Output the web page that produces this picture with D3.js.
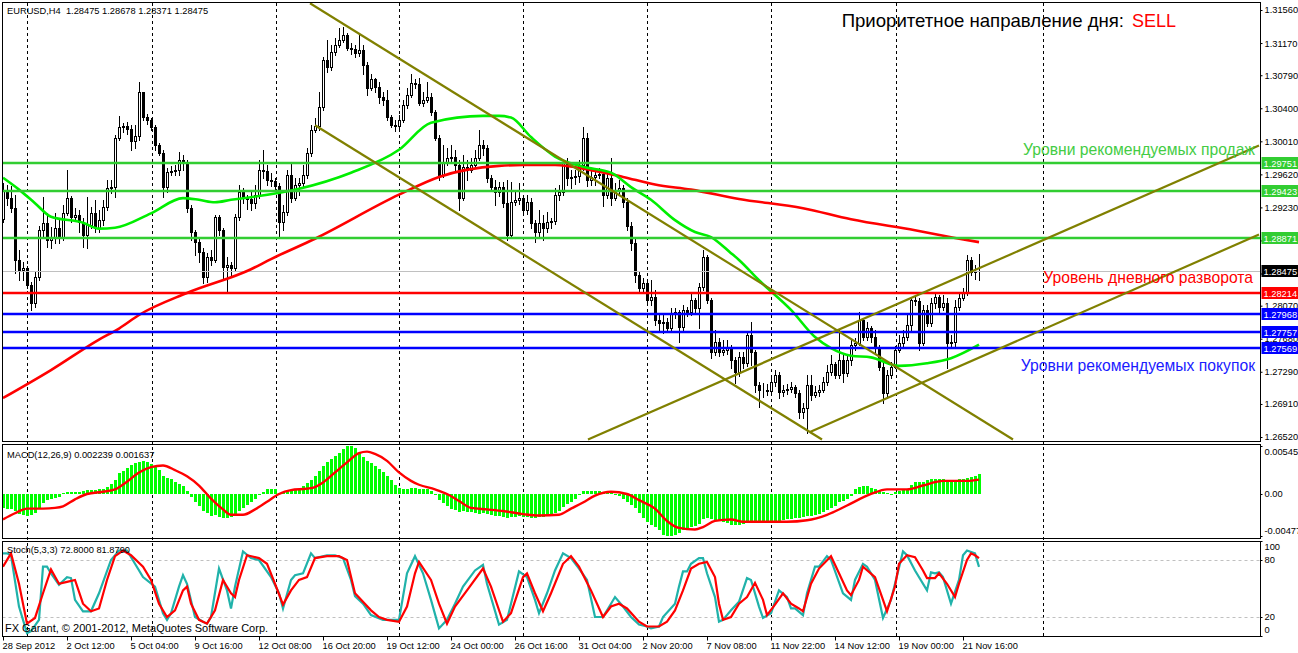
<!DOCTYPE html>
<html><head><meta charset="utf-8">
<script src="https://cdnjs.cloudflare.com/ajax/libs/d3/7.8.5/d3.min.js"></script>
<style>
html,body{margin:0;padding:0;background:#fff;overflow:hidden}
svg text{font-family:"Liberation Sans",Arial,sans-serif}
</style></head><body>
<svg id="chart" width="1298" height="653"></svg>
<script>
// ===== DATA =====
const symbolHeader = "EURUSD,H4  1.28475 1.28678 1.28371 1.28475";
const firstOpen = 1.2909;
const closes = [
1.2944,1.2934,1.2922,1.2861,1.2849,1.2852,1.2832,1.2810,1.2841,1.2896,
1.2905,1.2884,1.2888,1.2899,1.2888,1.2916,1.2934,1.2912,1.2914,1.2906,
1.2891,1.2902,1.2916,1.2899,1.2908,1.2924,1.2946,1.2947,1.3005,1.3018,
1.3019,1.3016,1.3001,1.3007,1.3059,1.3030,1.3026,1.3018,1.2997,1.2987,
1.2947,1.2965,1.2966,1.2967,1.2979,1.2975,1.2922,1.2894,1.2882,1.2870,
1.2841,1.2865,1.2861,1.2912,1.2896,1.2853,1.2855,1.2852,1.2912,1.2941,
1.2935,1.2933,1.2928,1.2938,1.2967,1.2966,1.2955,1.2954,1.2948,1.2906,
1.2918,1.2961,1.2934,1.2950,1.2952,1.2961,1.2987,1.3014,1.3019,1.3042,
1.3097,1.3089,1.3107,1.3115,1.3121,1.3127,1.3111,1.3110,1.3105,1.3109,
1.3091,1.3064,1.3074,1.3065,1.3053,1.3050,1.3030,1.3020,1.3019,1.3026,
1.3044,1.3056,1.3070,1.3069,1.3046,1.3050,1.3053,1.3036,1.3005,1.2961,
1.2975,1.2981,1.2983,1.2973,1.2934,1.2971,1.2967,1.2973,1.2981,1.2997,
1.2993,1.2958,1.2947,1.2941,1.2947,1.2928,1.2891,1.2929,1.2932,1.2934,
1.2920,1.2929,1.2905,1.2894,1.2905,1.2899,1.2906,1.2907,1.2938,1.2941,
1.2977,1.2958,1.2959,1.2960,1.2973,1.3005,1.2955,1.2959,1.2961,1.2962,
1.2938,1.2958,1.2934,1.2944,1.2946,1.2929,1.2901,1.2881,1.2843,1.2828,
1.2834,1.2814,1.2817,1.2790,1.2787,1.2788,1.2781,1.2798,1.2799,1.2782,
1.2802,1.2800,1.2814,1.2804,1.2829,1.2865,1.2814,1.2752,1.2764,1.2752,
1.2755,1.2757,1.2743,1.2729,1.2746,1.2739,1.2772,1.2752,1.2713,1.2707,
1.2708,1.2706,1.2717,1.2725,1.2705,1.2707,1.2709,1.2711,1.2704,1.2682,
1.2686,1.2713,1.2701,1.2705,1.2707,1.2717,1.2729,1.2738,1.2725,1.2743,
1.2727,1.2743,1.2761,1.2763,1.2790,1.2770,1.2781,1.2770,1.2757,1.2735,
1.2704,1.2725,1.2735,1.2755,1.2763,1.2770,1.2784,1.2814,1.2813,1.2763,
1.2802,1.2787,1.2810,1.2817,1.2806,1.2810,1.2763,1.2764,1.2806,1.2816,
1.2822,1.2861,1.2847,1.28475,1.28475];
const highs = [
1.2952,1.2950,1.2948,1.2938,1.2873,1.2859,1.2854,1.2835,1.2847,1.2901,
1.2935,1.2916,1.2900,1.2916,1.2911,1.2926,1.2967,1.2937,1.2922,1.2920,
1.2911,1.2935,1.2924,1.2932,1.2920,1.2932,1.2955,1.2955,1.3009,1.3031,
1.3023,1.3024,1.3020,1.3020,1.3071,1.3059,1.3033,1.3029,1.3020,1.2999,
1.2991,1.2970,1.2972,1.2973,1.2988,1.2985,1.2979,1.2926,1.2896,1.2887,
1.2875,1.2869,1.2873,1.2914,1.2914,1.2899,1.2864,1.2859,1.2915,1.2950,
1.2946,1.2938,1.2941,1.2950,1.2979,1.2991,1.2973,1.2964,1.2958,1.2952,
1.2926,1.2967,1.2977,1.2958,1.2958,1.2973,1.2993,1.3020,1.3029,1.3059,
1.3100,1.3121,1.3115,1.3123,1.3135,1.3136,1.3129,1.3117,1.3115,1.3127,
1.3115,1.3095,1.3080,1.3076,1.3071,1.3059,1.3062,1.3032,1.3026,1.3032,
1.3050,1.3064,1.3080,1.3074,1.3076,1.3059,1.3071,1.3058,1.3038,1.3009,
1.2997,1.2993,1.2997,1.2991,1.2979,1.2985,1.2979,1.2981,1.2991,1.3014,
1.3003,1.2997,1.2961,1.2955,1.2953,1.2953,1.2955,1.2953,1.2944,1.2952,
1.2938,1.2938,1.2934,1.2908,1.2920,1.2914,1.2918,1.2911,1.2946,1.2950,
1.2979,1.2981,1.2967,1.2967,1.2979,1.3018,1.3011,1.2967,1.2967,1.2970,
1.2967,1.2965,1.2981,1.2952,1.2955,1.2950,1.2934,1.2906,1.2887,1.2847,
1.2840,1.2835,1.2837,1.2826,1.2796,1.2796,1.2793,1.2804,1.2804,1.2802,
1.2808,1.2806,1.2822,1.2816,1.2834,1.2873,1.2867,1.2816,1.2778,1.2769,
1.2767,1.2767,1.2761,1.2746,1.2752,1.2752,1.2775,1.2788,1.2755,1.2717,
1.2716,1.2715,1.2725,1.2731,1.2729,1.2713,1.2715,1.2717,1.2713,1.2707,
1.2692,1.2725,1.2725,1.2712,1.2713,1.2723,1.2737,1.2749,1.2741,1.2778,
1.2749,1.2749,1.2767,1.2769,1.2800,1.2793,1.2788,1.2783,1.2778,1.2761,
1.2739,1.2731,1.2741,1.2759,1.2772,1.2778,1.2796,1.2816,1.2820,1.2816,
1.2808,1.2808,1.2816,1.2823,1.2820,1.2820,1.2816,1.2772,1.2814,1.2822,
1.2828,1.2867,1.2864,1.2855,1.28678];
const lows = [
1.2906,1.2926,1.2918,1.2846,1.2837,1.2837,1.2828,1.2802,1.2806,1.2837,
1.2887,1.2876,1.2875,1.2881,1.2881,1.2884,1.2914,1.2906,1.2908,1.2894,
1.2876,1.2875,1.2899,1.2894,1.2894,1.2902,1.2920,1.2940,1.2935,1.3003,
1.3012,1.3010,1.2991,1.2993,1.3003,1.3026,1.3022,1.3014,1.2991,1.2985,
1.2935,1.2941,1.2961,1.2961,1.2961,1.2967,1.2918,1.2884,1.2867,1.2859,
1.2834,1.2835,1.2855,1.2859,1.2891,1.2837,1.2823,1.2843,1.2849,1.2908,
1.2928,1.2921,1.2920,1.2922,1.2934,1.2958,1.2950,1.2948,1.2944,1.2888,
1.2896,1.2914,1.2929,1.2932,1.2938,1.2948,1.2958,1.2984,1.3012,1.3014,
1.3038,1.3083,1.3085,1.3103,1.3112,1.3118,1.3109,1.3104,1.3101,1.3102,
1.3080,1.3056,1.3062,1.3059,1.3046,1.3044,1.3026,1.3018,1.3013,1.3013,
1.3024,1.3040,1.3053,1.3064,1.3044,1.3043,1.3047,1.3032,1.3003,1.2955,
1.2959,1.2973,1.2977,1.2967,1.2920,1.2932,1.2955,1.2965,1.2970,1.2979,
1.2985,1.2953,1.2944,1.2926,1.2937,1.2924,1.2884,1.2889,1.2926,1.2927,
1.2916,1.2915,1.2899,1.2882,1.2887,1.2884,1.2894,1.2899,1.2903,1.2932,
1.2938,1.2950,1.2946,1.2951,1.2953,1.2967,1.2948,1.2950,1.2950,1.2958,
1.2925,1.2934,1.2926,1.2932,1.2939,1.2924,1.2896,1.2873,1.2835,1.2822,
1.2823,1.2811,1.2808,1.2784,1.2778,1.2775,1.2776,1.2778,1.2793,1.2764,
1.2778,1.2795,1.2796,1.2800,1.2781,1.2826,1.2810,1.2745,1.2749,1.2748,
1.2749,1.2750,1.2733,1.2716,1.2724,1.2733,1.2736,1.2737,1.2705,1.2688,
1.2699,1.2701,1.2704,1.2712,1.2698,1.2700,1.2703,1.2705,1.2699,1.2675,
1.2675,1.2657,1.2696,1.2699,1.2700,1.2705,1.2713,1.2725,1.2722,1.2722,
1.2717,1.2724,1.2737,1.2755,1.2761,1.2767,1.2767,1.2764,1.2752,1.2731,
1.2692,1.2698,1.2722,1.2733,1.2752,1.2758,1.2767,1.2778,1.2808,1.2755,
1.2761,1.2783,1.2783,1.2804,1.2800,1.2802,1.2733,1.2757,1.2757,1.2802,
1.2814,1.2820,1.2843,1.2838,1.28371];

// moving averages: [bar, price]
const maSlow = [[0,1.2698],[12,1.2731],[24,1.2767],[29,1.2780],[34,1.2796],[46,1.2822],[62,1.2850],[67,1.2862],[78,1.2886],[99,1.2938],[109,1.2959],[124,1.2972],[130,1.2973],[138,1.2973],[147,1.2967],[155,1.2959],[163,1.2950],[172,1.2944],[184,1.2933],[200,1.2922],[212,1.2909],[228,1.2896],[238,1.2887],[244,1.2882]];
const maFast = [[0,1.2958],[4,1.2944],[8,1.2928],[12,1.2912],[20,1.2905],[24,1.2898],[28,1.2899],[37,1.2916],[45,1.2934],[49,1.2932],[53,1.2929],[57,1.2932],[62,1.2935],[74,1.2945],[87,1.2964],[99,1.2991],[107,1.3023],[120,1.3031],[124,1.3031],[127,1.3029],[132,1.3006],[138,1.2983],[145,1.2971],[152,1.2964],[157,1.2947],[162,1.2932],[168,1.2908],[173,1.2894],[177,1.2888],[182,1.2869],[184,1.2861],[189,1.2837],[197,1.2802],[203,1.2770],[207,1.2757],[212,1.2748],[217,1.2746],[224,1.2736],[231,1.2739],[237,1.2745],[244,1.2761]];

// levels
const sellLevels = [1.29751,1.29423,1.28871];
const pivotLevels = [1.28214];
const buyLevels = [1.27968,1.27757,1.27569];
const lastPrice = 1.28475;

// trend lines: [bar, price] -> [bar, price]
const trendLines = [
  [[76.75,1.3164],[252.5,1.2649]],
  [[78,1.3020],[204.75,1.2649]],
  [[201.75,1.2658],[314,1.2891]],
  [[146.25,1.2649],[314,1.2996]]
];

// MACD
const macdHeader = "MACD(12,26,9) 0.002239 0.001637";
const macdHist = [
-0.00158,-0.00166,-0.00175,-0.00193,-0.00228,-0.00236,-0.00245,-0.00236,-0.00219,-0.00158,
-0.00105,-0.00070,-0.00053,-0.00044,-0.00035,0.00009,0.00026,0.00026,0.00026,0.00018,
0.00035,0.00044,0.00044,0.00044,0.00053,0.00061,0.00079,0.00114,0.00158,0.00236,
0.00263,0.00298,0.00324,0.00350,0.00368,0.00376,0.00359,0.00341,0.00315,0.00271,
0.00210,0.00184,0.00166,0.00140,0.00114,0.00088,0.00035,-0.00035,-0.00088,-0.00140,
-0.00193,-0.00219,-0.00245,-0.00236,-0.00263,-0.00271,-0.00271,-0.00263,-0.00228,-0.00193,
-0.00158,-0.00123,-0.00096,-0.00053,-0.00009,0.00026,0.00053,0.00061,0.00061,0.00009,
0.00018,0.00035,0.00035,0.00044,0.00061,0.00088,0.00123,0.00158,0.00201,0.00263,
0.00315,0.00359,0.00394,0.00429,0.00464,0.00510,0.00545,0.00540,0.00520,0.00470,
0.00420,0.00376,0.00350,0.00315,0.00280,0.00245,0.00201,0.00158,0.00105,0.00070,
0.00061,0.00061,0.00070,0.00070,0.00061,0.00061,0.00053,0.00035,0.00000,-0.00070,
-0.00105,-0.00140,-0.00166,-0.00184,-0.00201,-0.00193,-0.00201,-0.00210,-0.00219,-0.00228,
-0.00219,-0.00228,-0.00236,-0.00245,-0.00254,-0.00263,-0.00271,-0.00263,-0.00263,-0.00254,
-0.00263,-0.00263,-0.00271,-0.00271,-0.00263,-0.00263,-0.00254,-0.00236,-0.00219,-0.00193,
-0.00149,-0.00114,-0.00088,-0.00053,-0.00009,0.00035,0.00035,0.00035,0.00035,0.00035,
0.00026,0.00026,0.00009,-0.00009,-0.00026,-0.00053,-0.00088,-0.00123,-0.00158,-0.00219,
-0.00271,-0.00315,-0.00350,-0.00376,-0.00411,-0.00460,-0.00477,-0.00475,-0.00465,-0.00440,
-0.00411,-0.00394,-0.00376,-0.00359,-0.00341,-0.00280,-0.00271,-0.00289,-0.00298,-0.00306,
-0.00315,-0.00333,-0.00350,-0.00350,-0.00350,-0.00341,-0.00324,-0.00324,-0.00324,-0.00324,
-0.00324,-0.00324,-0.00324,-0.00315,-0.00306,-0.00298,-0.00289,-0.00280,-0.00271,-0.00271,
-0.00263,-0.00254,-0.00245,-0.00236,-0.00228,-0.00210,-0.00184,-0.00158,-0.00131,-0.00096,
-0.00079,-0.00053,-0.00018,0.00053,0.00079,0.00088,0.00088,0.00070,0.00061,0.00035,
0.00018,0.00009,0.00000,0.00026,0.00035,0.00044,0.00053,0.00105,0.00131,0.00131,
0.00140,0.00158,0.00166,0.00175,0.00175,0.00175,0.00131,0.00131,0.00158,0.00166,
0.00166,0.00184,0.00193,0.00201,0.002239];
const macdSignal = [[0,-0.00289],[3,-0.00219],[6,-0.00166],[10,-0.00166],[13,-0.00158],[15,-0.00140],[18,-0.00061],[21,0],[25,0.00026],[28,0.00053],[31,0.00140],[34,0.00245],[37,0.00306],[40,0.00324],[43,0.00271],[46,0.00201],[49,0.00096],[52,-0.00053],[55,-0.00175],[57,-0.00236],[60,-0.00236],[63,-0.00175],[66,-0.00088],[69,0],[72,0.00044],[76,0.00061],[78,0.00079],[80,0.00131],[83,0.00245],[86,0.00359],[89,0.00464],[91,0.00481],[93,0.00455],[96,0.00376],[99,0.00245],[102,0.00149],[104,0.00105],[108,0.00053],[111,0],[114,-0.00079],[117,-0.00158],[121,-0.00175],[125,-0.00193],[130,-0.00228],[134,-0.00245],[139,-0.00236],[142,-0.00166],[145,-0.00096],[148,-0.00018],[152,0.00026],[156,0],[159,-0.00070],[163,-0.00166],[166,-0.00306],[169,-0.00385],[173,-0.00403],[175,-0.00376],[178,-0.00306],[182,-0.00289],[185,-0.00315],[191,-0.00315],[196,-0.00315],[201,-0.00298],[206,-0.00236],[211,-0.00131],[217,0],[221,0.00053],[226,0.00053],[230,0.00096],[235,0.00149],[241,0.00149],[244,0.001637]];
const macdTicks = [0.00545,0,-0.00477];
const macdTickLabels = ["0.00545","0.00","-0.00477"];

// Stochastic
const stochHeader = "Stoch(5,3,3) 72.8000 81.8790";
const stochK = [[0,87],[1,87],[2,85],[4,31],[6,3],[7,5],[9,17],[10,73],[11,73],[12,66],[14,54],[16,62],[17,61],[18,38],[20,26],[22,26],[24,45],[27,80],[29,90],[31,90],[33,76],[35,62],[38,52],[40,24],[41,17],[42,24],[44,52],[45,64],[46,55],[48,20],[50,15],[51,13],[52,20],[54,71],[56,48],[57,29],[58,52],[60,89],[62,82],[64,80],[67,62],[69,45],[70,29],[72,59],[73,64],[75,66],[77,87],[78,82],[81,85],[83,85],[85,82],[87,59],[88,42],[90,34],[92,22],[95,17],[98,17],[99,17],[101,66],[103,84],[105,66],[107,38],[109,8],[111,17],[113,34],[115,52],[118,69],[120,75],[121,55],[124,12],[126,17],[129,68],[131,62],[133,38],[134,24],[136,45],[138,69],[140,87],[142,82],[144,71],[146,59],[148,20],[150,20],[152,34],[153,41],[155,31],[157,20],[159,12],[161,10],[162,8],[164,10],[165,20],[168,34],[169,52],[170,68],[171,68],[172,76],[174,82],[175,82],[176,66],[178,41],[179,15],[180,17],[182,27],[184,36],[186,61],[187,59],[189,31],[190,19],[192,24],[194,48],[196,41],[197,29],[198,29],[200,22],[201,45],[203,73],[204,73],[206,84],[207,80],[210,45],[212,38],[213,59],[215,76],[216,73],[218,59],[220,19],[222,38],[225,89],[226,85],[228,69],[231,48],[232,67],[233,66],[234,67],[235,62],[237,34],[239,59],[240,85],[241,90],[243,87],[244,72.8]];
const stochD = [[0,73],[2,87],[4,55],[6,13],[8,19],[10,45],[12,70],[14,55],[16,57],[18,59],[20,34],[22,26],[24,29],[26,59],[28,84],[30,90],[32,85],[35,73],[37,59],[39,34],[41,20],[43,27],[45,48],[46,52],[47,34],[49,17],[51,13],[53,27],[55,59],[57,45],[58,41],[59,59],[61,85],[64,82],[66,76],[68,55],[70,33],[72,48],[74,59],[76,62],[78,82],[81,84],[84,84],[86,80],[88,45],[92,27],[94,20],[96,17],[99,15],[101,31],[103,66],[104,78],[107,59],[109,34],[111,13],[113,31],[116,48],[120,71],[122,52],[125,15],[127,24],[130,62],[131,66],[133,45],[135,26],[137,45],[140,76],[142,84],[144,73],[147,48],[150,20],[152,31],[154,34],[156,29],[159,15],[161,10],[164,10],[166,15],[168,27],[170,48],[172,71],[174,76],[176,78],[178,62],[179,34],[180,17],[182,20],[184,34],[186,41],[188,56],[190,38],[191,22],[193,33],[195,45],[197,34],[199,29],[200,26],[202,55],[204,71],[207,84],[209,66],[211,48],[212,43],[214,59],[215,73],[218,62],[220,38],[221,26],[223,52],[224,76],[226,85],[228,83],[230,69],[231,61],[233,61],[234,66],[236,55],[238,41],[239,55],[241,80],[242,87],[243,85],[244,81.879]];
const stochLevels = [80,20];
const stochTicks = [100,80,20,0];

// axes
const priceTicks = [1.3156,1.3117,1.3079,1.3040,1.3001,1.2962,1.2923,1.2884,1.2845,1.2807,1.2768,1.2729,1.2691,1.2652];
const timeBars = [0,16,32,48,64,80,96,112,128,144,160,176,192,208,224,240];
const timeLabels = ["28 Sep 2012","2 Oct 12:00","5 Oct 04:00","9 Oct 16:00","12 Oct 08:00","16 Oct 20:00","19 Oct 12:00","24 Oct 00:00","26 Oct 16:00","31 Oct 04:00","2 Nov 20:00","7 Nov 08:00","11 Nov 22:00","14 Nov 12:00","19 Nov 00:00","21 Nov 16:00"];
const gridBars = [6,37.25,68.25,99,130,161,192,223.25,260];

// texts
const titleText = "Приоритетное направление дня:";
const signalText = "SELL";
const sellText = "Уровни рекомендуемых продаж";
const pivotText = "Уровень дневного разворота";
const buyText = "Уровни рекомендуемых покупок";
const copyrightText = "FX Garant, © 2001-2012, MetaQuotes Software Corp.";

// ===== DRAW =====
const svg = d3.select('#chart');
const LEFT = 2.5, RIGHT = 1260.5;
const SMALL = '9.3px';
const PANEL = {main:[2.5,441.5], macd:[444.5,538.5], stoch:[541.5,636.5]};
const x = d3.scaleLinear().domain([0,314]).range([3,1259]);
const yP = d3.scaleLinear().domain([1.2652,1.3156]).range([437,10]);
const yM = d3.scaleLinear().domain([-0.00477,0.00545]).range([536,446]);
const yS = d3.scaleLinear().domain([0,100]).range([636,541]);
const px = v => Math.round(x(v));

const defs = svg.append('defs');
Object.entries(PANEL).forEach(([k,[t,b]])=>{
  defs.append('clipPath').attr('id','clip-'+k).append('rect')
    .attr('x',LEFT+0.5).attr('y',t+0.5).attr('width',RIGHT-LEFT-1).attr('height',b-t-1);
});

// grid dashed verticals
const gGrid = svg.append('g');
gGrid.selectAll('line').data(gridBars).join('line')
  .attr('x1',d=>px(d)+0.5).attr('x2',d=>px(d)+0.5)
  .attr('y1',3).attr('y2',636)
  .attr('stroke','#000').attr('stroke-width',1).attr('stroke-dasharray','3,3');

// ---- main panel
const gMain = svg.append('g').attr('clip-path','url(#clip-main)');
const candles = closes.map((c,i)=>{
  const o = i===0 ? firstOpen : closes[i-1];
  return {i,o,c,h:Math.max(highs[i],o,c),l:Math.min(lows[i],o,c)};
});
gMain.append('g').attr('shape-rendering','crispEdges').selectAll('line').data(candles).join('line')
  .attr('x1',d=>px(d.i)+0.5).attr('x2',d=>px(d.i)+0.5)
  .attr('y1',d=>Math.round(yP(d.h))).attr('y2',d=>Math.round(yP(d.l))+1)
  .attr('stroke','#000');
gMain.append('g').attr('shape-rendering','crispEdges').selectAll('rect').data(candles).join('rect')
  .attr('x',d=>px(d.i)-0.5)
  .attr('y',d=>Math.round(yP(Math.max(d.o,d.c)))+0.5)
  .attr('width',2)
  .attr('height',d=>Math.max(0,Math.round(yP(Math.min(d.o,d.c)))-Math.round(yP(Math.max(d.o,d.c)))))
  .attr('fill',d=>d.c>d.o?'#fff':'#000').attr('stroke','#000');

// current price line
gMain.append('line').attr('x1',LEFT).attr('x2',RIGHT)
  .attr('y1',Math.round(yP(lastPrice))+0.5).attr('y2',Math.round(yP(lastPrice))+0.5)
  .attr('stroke','#c0c0c0').attr('stroke-width',1);

// MAs
const maLine = d3.line().x(d=>x(d[0])).y(d=>yP(d[1])).curve(d3.curveMonotoneX);
gMain.append('path').attr('d',maLine(maSlow)).attr('fill','none').attr('stroke','#ff0000').attr('stroke-width',2.6);
gMain.append('path').attr('d',maLine(maFast)).attr('fill','none').attr('stroke','#00ee00').attr('stroke-width',2.6);

// horizontal levels
const levelDefs = [
  ...sellLevels.map(v=>({v,col:'#32cd32'})),
  ...pivotLevels.map(v=>({v,col:'#ff0000'})),
  ...buyLevels.map(v=>({v,col:'#0000ff'}))
];
gMain.selectAll('.lvl').data(levelDefs).join('line').attr('class','lvl')
  .attr('x1',LEFT).attr('x2',RIGHT)
  .attr('y1',d=>Math.round(yP(d.v))).attr('y2',d=>Math.round(yP(d.v)))
  .attr('stroke',d=>d.col).attr('stroke-width',2.4);

// trend lines
gMain.selectAll('.tl').data(trendLines).join('line').attr('class','tl')
  .attr('x1',d=>x(d[0][0])).attr('y1',d=>yP(d[0][1]))
  .attr('x2',d=>x(d[1][0])).attr('y2',d=>yP(d[1][1]))
  .attr('stroke','#808000').attr('stroke-width',2.2);

// ---- MACD panel
const gMacd = svg.append('g').attr('clip-path','url(#clip-macd)');
gMacd.append('g').attr('shape-rendering','crispEdges').selectAll('rect').data(macdHist).join('rect')
  .attr('x',(d,i)=>px(i)-1).attr('width',3)
  .attr('y',d=>Math.round(Math.min(yM(d),yM(0))))
  .attr('height',d=>Math.max(1,Math.round(Math.abs(yM(d)-yM(0)))))
  .attr('fill','#00ff00');
const mLine = d3.line().x(d=>x(d[0])).y(d=>yM(d[1])).curve(d3.curveMonotoneX);
gMacd.append('path').attr('d',mLine(macdSignal)).attr('fill','none').attr('stroke','#ff0000').attr('stroke-width',2.4);

// ---- Stoch panel
const gSt = svg.append('g').attr('clip-path','url(#clip-stoch)');
gSt.selectAll('.sl').data(stochLevels).join('line').attr('class','sl')
  .attr('x1',LEFT).attr('x2',RIGHT)
  .attr('y1',d=>Math.round(yS(d))+0.5).attr('y2',d=>Math.round(yS(d))+0.5)
  .attr('stroke','#c0c0c0').attr('stroke-dasharray','3,3');
const sLine = d3.line().x(d=>x(d[0])).y(d=>yS(d[1]));
gSt.append('path').attr('d',sLine(stochK)).attr('fill','none').attr('stroke','#20b2aa').attr('stroke-width',2.2);
gSt.append('path').attr('d',sLine(stochD)).attr('fill','none').attr('stroke','#ff0000').attr('stroke-width',2.2);

// panel borders
Object.values(PANEL).forEach(([t,b])=>{
  svg.append('rect').attr('x',LEFT).attr('y',t).attr('width',RIGHT-LEFT).attr('height',b-t)
    .attr('fill','none').attr('stroke','#000').attr('stroke-width',1);
});

// ---- axes
function styleAxis(g){
  g.select('.domain').remove();
  g.selectAll('text').attr('font-size',SMALL).attr('font-family','"Liberation Sans",Arial,sans-serif').attr('fill','#000');
  g.selectAll('.tick line').attr('stroke','#000');
}
const ax = svg.append('g').attr('transform',`translate(${RIGHT},0)`)
  .call(d3.axisRight(yP).tickValues(priceTicks).tickFormat(d3.format('.5f')).tickSize(2).tickPadding(2));
styleAxis(ax);

const axM = svg.append('g').attr('transform',`translate(${RIGHT},0)`)
  .call(d3.axisRight(yM).tickValues(macdTicks).tickFormat((d,i)=>macdTickLabels[i]).tickSize(2).tickPadding(2));
styleAxis(axM);
axM.selectAll('text').attr('dy',(d,i)=> i===0?'0.95em':(i===2?'-0.25em':'0.32em'));

const axS = svg.append('g').attr('transform',`translate(${RIGHT},0)`)
  .call(d3.axisRight(yS).tickValues(stochTicks).tickFormat(d3.format('d')).tickSize(2).tickPadding(2));
styleAxis(axS);
axS.selectAll('text').attr('dy',d=> d===100?'0.95em':(d===0?'-0.35em':'0.32em'));

const axT = svg.append('g').attr('transform','translate(0,636.5)')
  .call(d3.axisBottom(x).tickValues(timeBars).tickFormat((d,i)=>timeLabels[i]).tickSize(4).tickPadding(2).tickSizeOuter(0));
styleAxis(axT);
axT.selectAll('text').attr('text-anchor','start').attr('dx','-1');

// level value boxes on axis
const boxes = [...levelDefs.map(d=>({v:d.v,col:d.col})),{v:lastPrice,col:'#000'}];
const gB = svg.append('g');
boxes.forEach(d=>{
  const yy = Math.round(yP(d.v));
  gB.append('rect').attr('x',RIGHT+1).attr('y',yy-6).attr('width',40).attr('height',12).attr('fill',d.col);
  gB.append('text').attr('x',RIGHT+3).attr('y',yy+4).attr('font-size',SMALL).attr('fill','#fff').text(d.v.toFixed(5));
});

// ---- texts
const T = (t,xx,yy,opt)=>svg.append('text').attr('x',xx).attr('y',yy)
  .attr('font-size',opt.size||SMALL).attr('fill',opt.fill||'#000').attr('text-anchor',opt.anchor||'start')
  .style('white-space','pre').text(t);
T(symbolHeader,7,14,{size:SMALL});
T(macdHeader,7,458,{size:SMALL});
T(stochHeader,7,553,{size:SMALL});
T(copyrightText,5,632,{size:'11px'});
T(titleText,1124,27,{size:'18.6px',anchor:'end'});
T(signalText,1132,27,{size:'18px',fill:'#ff0000'});
T(sellText,1255,155,{size:'15.7px',fill:'#44cc44',anchor:'end'});
T(pivotText,1253,283,{size:'15.7px',fill:'#ff0000',anchor:'end'});
T(buyText,1255,371,{size:'15.7px',fill:'#1a1aff',anchor:'end'});
</script>
</body></html>
